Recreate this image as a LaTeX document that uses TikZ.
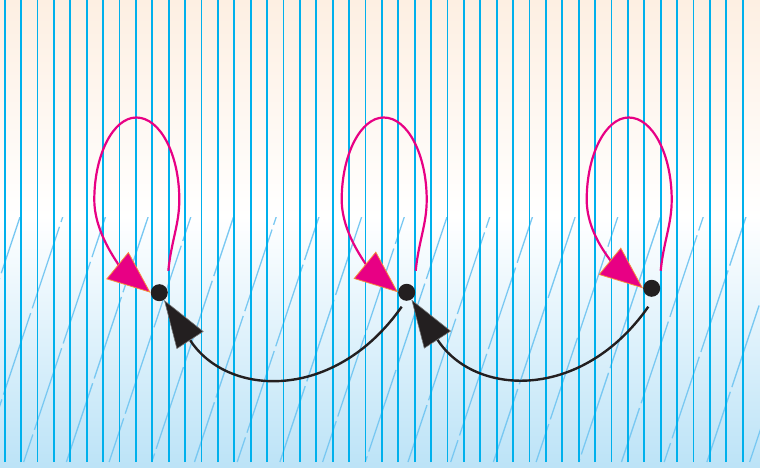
\documentclass[tikz,border=0pt]{standalone}
\usetikzlibrary{arrows.meta}
\definecolor{cream}{RGB}{253,239,226}
\definecolor{paleblue}{RGB}{188,227,247}
\definecolor{rule}{RGB}{0,176,236}
\definecolor{hatch}{RGB}{120,200,242}
\definecolor{loopmag}{RGB}{232,0,132}
\definecolor{loopedge}{RGB}{246,140,60}
\definecolor{ink}{RGB}{35,31,32}

\begin{document}
\begin{tikzpicture}[x=1pt,y=1pt,
    dot/.style={circle,fill=ink,minimum size=17pt,inner sep=0pt},
    selfloop/.style={loopmag,line width=2.2pt,-{Triangle[length=43pt,width=35pt,fill=loopmag,color=loopedge,line width=0.8pt]}},
    jump/.style={ink,line width=2.4pt,-{Triangle[length=48pt,width=32pt,fill=ink,color=black!55,line width=0.6pt]}}]
    \useasboundingbox (0,0) rectangle (760,467);
    % background
    \shade[top color=cream,bottom color=white] (0,250) rectangle (760,467);
    \shade[top color=white,bottom color=paleblue] (0,0) rectangle (760,250);
    % hatching
    \begin{scope}
        \clip (0,5) rectangle (760,250);
        \foreach \k in {0,...,22} {
            \pgfmathsetmacro{\ph}{mod(\k*37,91)}
            \draw[hatch,line width=1.3pt,dash pattern=on 86pt off 5pt,dash phase=\ph pt] ({42.7*\k-147.1},5) -- ++(81.7,245);
        }
    \end{scope}
    \foreach \k in {0,...,45}
        \draw[rule,line width=1.8pt] ({4.7+16.4*\k},5) -- ++(0,462);
    % states
    \node[dot] (d1) at (159.3,174.3) {};
    \node[dot] (d2) at (406.7,174.7) {};
    \node[dot] (d3) at (651.7,178.7) {};
    % jumps back
    \coordinate (s2) at (401.7,160.3);
    \coordinate (s3) at (648.3,160.3);
    \draw[jump] (s2) to[out=-125,in=-57,looseness=1.25] (d1);
    \draw[jump] (s3) to[out=-125,in=-57,looseness=1.25] (d2);
    % self loops
    \foreach \n/\x in {1/159.3,2/406.7,3/651.7} {
        \coordinate (e\n) at ({\x+9},196.3);
        \draw[selfloop] (e\n) .. controls +(3,30) and +(0,-25) .. ({\x+20},267.3)
            .. controls +(0,45) and +(24,0) .. ({\x-23},349.5)
            .. controls +(-23,0) and +(0,45) .. ({\x-65},267.3)
            .. controls +(0,-40) and +(-22,18) .. (d\n.west);
    }
\end{tikzpicture}
\end{document}
